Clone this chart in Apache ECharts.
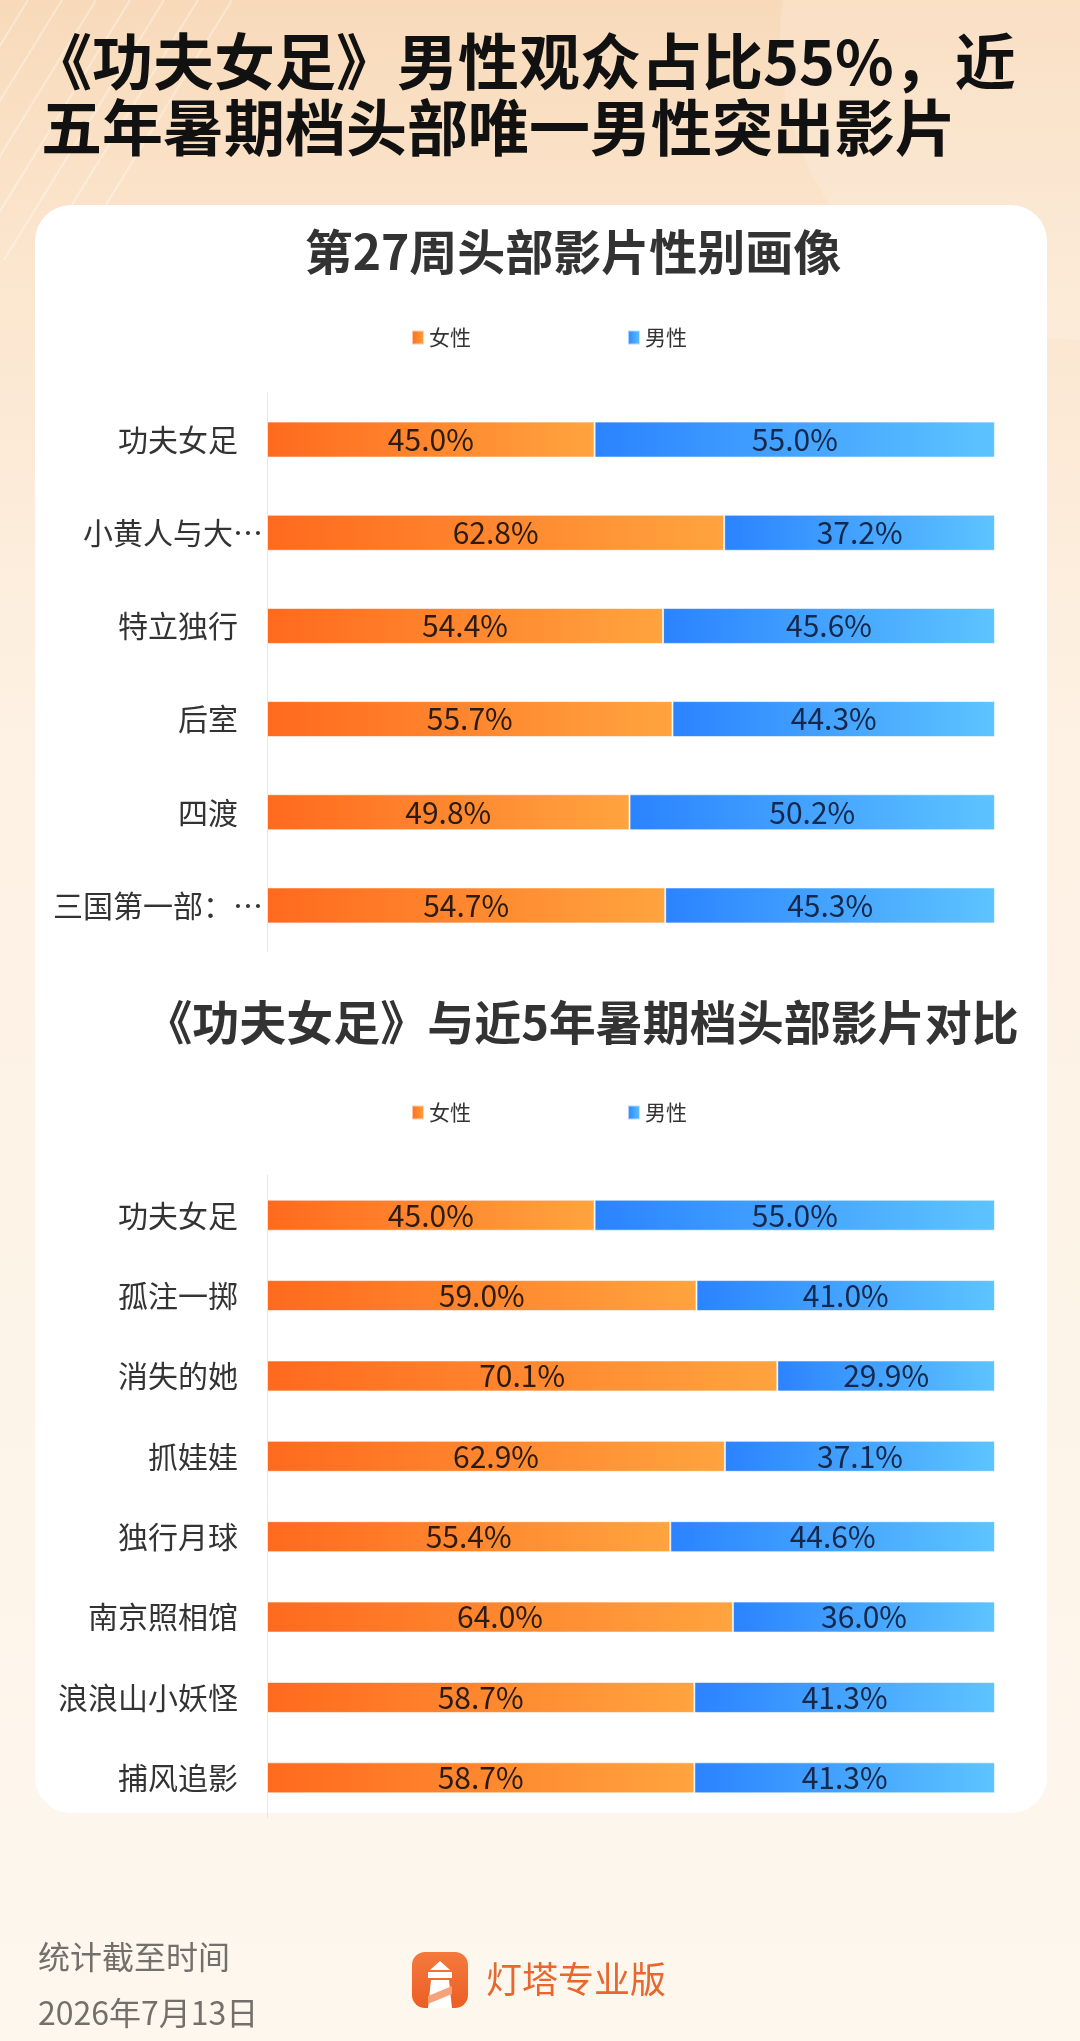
<!DOCTYPE html>
<html>
<head>
<meta charset="utf-8">
<script src="https://cdn.jsdelivr.net/npm/echarts@6/dist/echarts.min.js"></script>
<style>
  html, body { margin: 0; padding: 0; }
  #page { width: 1080px; height: 2041px; }
</style>
</head>
<body>
<div id="page"></div>
<script>
// 第27周头部影片
var cats1 = ['功夫女足', '小黄人与大…', '特立独行', '后室', '四渡', '三国第一部：…'];
var female1 = [45.0, 62.8, 54.4, 55.7, 49.8, 54.7];
var male1 = [55.0, 37.2, 45.6, 44.3, 50.2, 45.3];

// 近5年暑期档头部影片
var cats2 = ['功夫女足', '孤注一掷', '消失的她', '抓娃娃', '独行月球', '南京照相馆', '浪浪山小妖怪', '捕风追影'];
var female2 = [45.0, 59.0, 70.1, 62.9, 55.4, 64.0, 58.7, 58.7];
var male2 = [55.0, 41.0, 29.9, 37.1, 44.6, 36.0, 41.3, 41.3];

var legendNames = ['女性', '男性'];

var FONT = '"Noto Sans CJK SC", "Noto Sans", sans-serif';

var chart = echarts.init(document.getElementById('page'));

function orange() {
  return new echarts.graphic.LinearGradient(0, 0, 1, 0, [
    { offset: 0, color: '#FF6A1E' },
    { offset: 1, color: '#FFA43F' }
  ]);
}
function blue() {
  return new echarts.graphic.LinearGradient(0, 0, 1, 0, [
    { offset: 0, color: '#2B83FF' },
    { offset: 1, color: '#5DC4FF' }
  ]);
}

function pct(p) {
  return p.value.toFixed(1) + '%';
}

function barSeries(name, idx, data, color, barWidth, labelColor) {
  return {
    name: name,
    type: 'bar',
    stack: 'g' + idx,
    xAxisIndex: idx,
    yAxisIndex: idx,
    barWidth: barWidth,
    data: data,
    itemStyle: { color: color, borderColor: 'rgba(255,255,255,0.6)', borderWidth: 1 },
    label: {
      show: true,
      position: 'inside',
      formatter: pct,
      fontSize: 30,
      fontFamily: FONT,
      color: labelColor
    },
    emphasis: { disabled: true }
  };
}

// 截断的名字（带…）贴近坐标轴，其余留出间距
function catLabel(v) {
  return v.charAt(v.length - 1) === '…' ? v : v + '{p| }';
}

function yAxis(idx, data) {
  return {
    type: 'category',
    gridIndex: idx,
    data: data,
    inverse: true,
    axisLine: { show: true, lineStyle: { color: '#e8e8e8', width: 1 } },
    axisTick: { show: false },
    axisLabel: {
      fontSize: 30, color: '#333', fontFamily: FONT, margin: 4,
      formatter: catLabel,
      rich: { p: { width: 25, fontSize: 30 } }
    }
  };
}

function xAxis(idx) {
  return { type: 'value', gridIndex: idx, min: 0, max: 100, show: false };
}

// 背景斜纹
var stripes = [];
for (var i = 0; i < 9; i++) {
  stripes.push({
    type: 'line',
    z: -25,
    shape: { x1: -40 + i * 34, y1: 0, x2: -200 + i * 34, y2: 260 },
    style: { stroke: 'rgba(255,255,255,0.35)', lineWidth: 2 }
  });
}

var graphics = [
  {
    type: 'rect', z: -30,
    shape: { x: 0, y: 0, width: 1080, height: 2041 },
    style: {
      fill: new echarts.graphic.LinearGradient(0, 0, 0, 1, [
        { offset: 0, color: '#F8DABA' },
        { offset: 0.12, color: '#FBE5CD' },
        { offset: 0.35, color: '#FDF1E3' },
        { offset: 1, color: '#FDF7EE' }
      ])
    }
  },
  {
    type: 'circle', z: -28,
    shape: { cx: 1080, cy: 40, r: 300 },
    style: { fill: 'rgba(255,255,255,0.16)' }
  }
].concat(stripes).concat([
  {
    type: 'rect', z: -20,
    shape: { x: 35, y: 205, width: 1012, height: 1608, r: 36 },
    style: { fill: '#ffffff' }
  },
  {
    type: 'text', z: 10, x: 31, y: 62,
    style: {
      text: '《功夫女足》男性观众占比55%，近',
      fontSize: 61, fontWeight: 'bold', fontFamily: FONT,
      fill: '#111', align: 'left', verticalAlign: 'middle'
    }
  },
  {
    type: 'text', z: 10, x: 41, y: 128,
    style: {
      text: '五年暑期档头部唯一男性突出影片',
      fontSize: 61, fontWeight: 'bold', fontFamily: FONT,
      fill: '#111', align: 'left', verticalAlign: 'middle'
    }
  },
  {
    type: 'text', z: 10, x: 573, y: 252,
    style: {
      text: '第27周头部影片性别画像',
      fontSize: 48, fontWeight: 'bold', fontFamily: FONT,
      fill: '#333', align: 'center', verticalAlign: 'middle'
    }
  },
  {
    type: 'text', z: 10, x: 582, y: 1022,
    style: {
      text: '《功夫女足》与近5年暑期档头部影片对比',
      fontSize: 47, fontWeight: 'bold', fontFamily: FONT,
      fill: '#333', align: 'center', verticalAlign: 'middle'
    }
  },
  {
    type: 'text', z: 10, x: 38, y: 1957,
    style: {
      text: '统计截至时间',
      fontSize: 32, fontFamily: FONT,
      fill: '#73706b', align: 'left', verticalAlign: 'middle'
    }
  },
  {
    type: 'text', z: 10, x: 38, y: 2013,
    style: {
      text: '2026年7月13日',
      fontSize: 32, fontFamily: FONT,
      fill: '#73706b', align: 'left', verticalAlign: 'middle'
    }
  },
  // 灯塔 logo
  {
    type: 'rect', z: 10,
    shape: { x: 412, y: 1952, width: 56, height: 56, r: 13 },
    style: {
      fill: new echarts.graphic.LinearGradient(0, 0, 0, 1, [
        { offset: 0, color: '#F47A3C' },
        { offset: 1, color: '#EC5E24' }
      ])
    }
  },
  {
    type: 'polygon', z: 11,
    shape: { points: [[430, 1970], [440, 1961], [450, 1970]] },
    style: { fill: '#fff' }
  },
  {
    type: 'rect', z: 11,
    shape: { x: 428, y: 1972, width: 24, height: 6 },
    style: { fill: '#fff' }
  },
  {
    type: 'polygon', z: 11,
    shape: { points: [[431, 1980], [449, 1980], [452, 2008], [428, 2008]] },
    style: { fill: '#fff' }
  },
  {
    type: 'polygon', z: 12,
    shape: { points: [[428, 1996], [452, 1986], [452, 1994], [428, 2004]] },
    style: { fill: '#F7A37A' }
  },
  {
    type: 'text', z: 10, x: 486, y: 1979,
    style: {
      text: '灯塔专业版',
      fontSize: 36, fontFamily: FONT,
      fill: '#E8672F', align: 'left', verticalAlign: 'middle'
    }
  }
]);

var option = {
  animation: false,
  textStyle: { fontFamily: FONT },
  graphic: { elements: graphics },
  legend: [
    {
      data: legendNames,
      left: 406,
      top: 322,
      itemWidth: 12,
      itemHeight: 14,
      itemGap: 156,
      icon: 'rect',
      textStyle: { fontSize: 21, color: '#333', fontFamily: FONT },
      selectedMode: false
    },
    {
      data: legendNames,
      left: 406,
      top: 1097,
      itemWidth: 12,
      itemHeight: 14,
      itemGap: 156,
      icon: 'rect',
      textStyle: { fontSize: 21, color: '#333', fontFamily: FONT },
      selectedMode: false
    }
  ],
  grid: [
    { left: 267, top: 393, width: 728, height: 559 },
    { left: 267, top: 1175, width: 728, height: 643 }
  ],
  xAxis: [xAxis(0), xAxis(1)],
  yAxis: [yAxis(0, cats1), yAxis(1, cats2)],
  series: [
    barSeries('女性', 0, female1, orange(), 36, '#2a1c12'),
    barSeries('男性', 0, male1, blue(), 36, '#15284a'),
    barSeries('女性', 1, female2, orange(), 31, '#2a1c12'),
    barSeries('男性', 1, male2, blue(), 31, '#15284a')
  ]
};

chart.setOption(option);
</script>
</body>
</html>
